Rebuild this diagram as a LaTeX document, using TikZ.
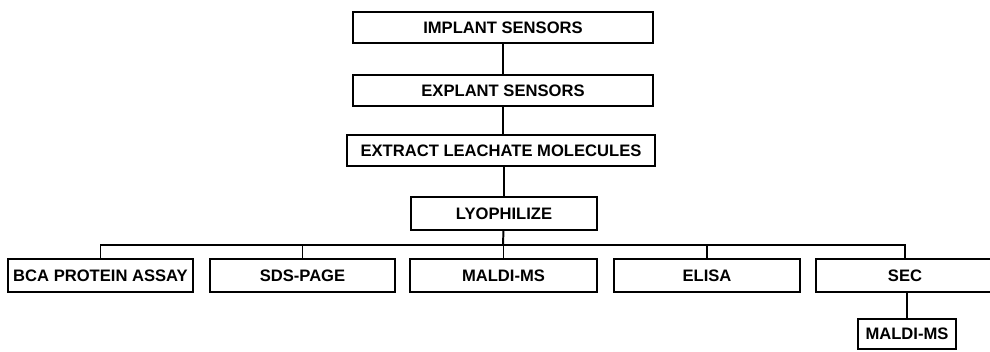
\documentclass[tikz,border=0pt]{standalone}
\usepackage{fontspec}
\setmainfont{Liberation Sans}
\usepackage{tikz}

\tikzset{
  stagebox/.style={draw, line width=1.5pt, inner sep=0pt, minimum height=31*0.025cm,
    minimum width=#1*0.025cm, font=\fontsize{11.8}{14}\selectfont\bfseries}
}

\begin{document}
\begin{tikzpicture}[x=0.025cm,y=-0.025cm,line width=1.4pt]
                \useasboundingbox (0,0) rectangle (990,351);
                \node [stagebox=300] (implant) at (503,27.5) {IMPLANT SENSORS};
                \node [stagebox=300] (explant) at (503,90.5) {EXPLANT SENSORS};
                \node [stagebox=308] (extract) at (501,150.5) {EXTRACT LEACHATE MOLECULES};
                \node [stagebox=186,minimum height=33*0.025cm] (lyo) at (504,213.5) {LYOPHILIZE};
                \node [stagebox=185,minimum height=33*0.025cm] (bca) at (100.5,275.5) {BCA PROTEIN ASSAY};
                \node [stagebox=185,minimum height=33*0.025cm] (sds) at (302.5,275.5) {SDS-PAGE};
                \node [stagebox=187,minimum height=33*0.025cm] (maldi) at (503.5,275.5) {MALDI-MS};
                \node [stagebox=186,minimum height=33*0.025cm] (elisa) at (707,275.5) {ELISA};
                \node [stagebox=178,minimum height=33*0.025cm] (sec) at (905,275.5) {SEC};
                \node [stagebox=98,minimum height=30*0.025cm] (secms) at (907,334) {MALDI-MS};
                \coordinate (bus) at (503,245);
                \draw (implant) -- (explant);
                \draw (explant) -- (extract.north -| explant.south);
                \draw (extract.south -| lyo.north) -- (lyo);
                \draw (lyo) -- (bus);
                \draw (bca.north) |- (bus) -| (sec.north);
                \foreach \step in {sds,maldi,elisa}
                  \draw (\step.north) -- (\step.north |- bus);
                \draw (sec.south -| secms.north) -- (secms);
            \end{tikzpicture}
\end{document}
